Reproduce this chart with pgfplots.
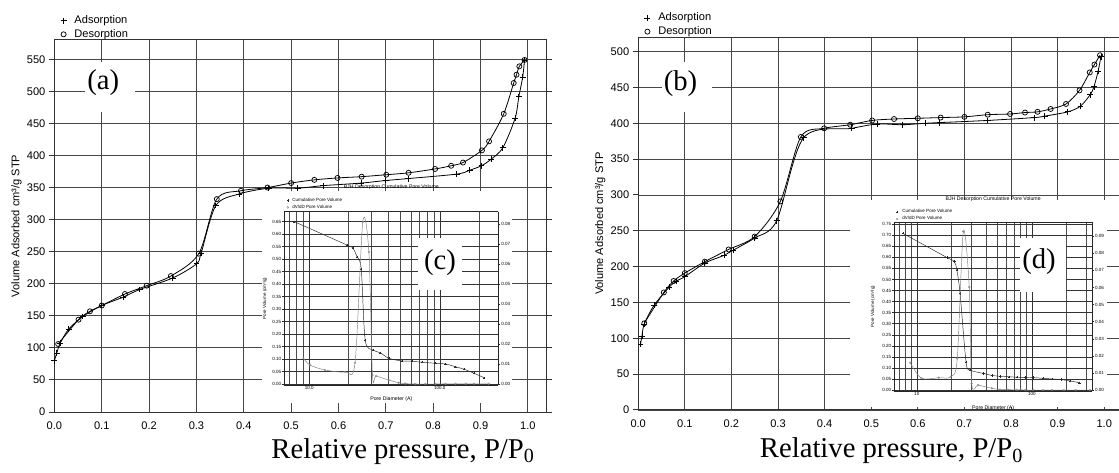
\documentclass[border=0pt]{standalone}
\usepackage{fontspec}
\setmainfont{Liberation Sans}
\newfontfamily\timesf{Liberation Serif}
\usepackage{pgfplots}
\pgfplotsset{compat=1.18}

\newcommand\mainfs{\fontsize{8.3}{9.5}\selectfont}
\newcommand\insfs{\fontsize{3.4}{4}\selectfont}
\newcommand\insfsb{\fontsize{3.9}{4.5}\selectfont}
\newcommand\bigfs{\timesf\fontsize{21.5}{24}\selectfont}

\pgfplotsset{
  markonly legend/.style={legend image code/.code={\draw[##1] plot[only marks] coordinates {(0pt,0pt)};}},
  mainax/.style={
    anchor=north west, scale only axis,
    xmin=0, ymin=0,
    xtick={0,0.1,0.2,0.3,0.4,0.5,0.6,0.7,0.8,0.9,1.0},
    grid=major,
    major grid style={black!72, line width=0.7pt},
    axis line style={black!80, line width=0.75pt},
    xtick style={draw=none},
    ytick style={black!80, line width=0.75pt},
    ytick align=outside, major tick length=3.75pt,
    tick label style={font=\mainfs},
    xticklabel style={/pgf/number format/fixed, /pgf/number format/fixed zerofill, /pgf/number format/precision=1, yshift=-4pt},
    yticklabel style={xshift=0.5pt},
    /pgf/number format/assume math mode=true,
    ylabel={Volume Adsorbed cm³/g STP},
    every axis y label/.style={at={([xshift=-28.5pt]axis description cs:0,0.5)}, rotate=90, anchor=center, font=\mainfs},
    markonly legend,
    legend cell align=left,
    legend style={draw=none, fill=none, at={(0,1)}, anchor=south west, xshift=4.5pt, yshift=-0.7pt, inner sep=0pt, row sep=0.75pt, font=\mainfs, nodes={inner sep=1pt}, /tikz/every odd column/.append style={column sep=4.95pt}},
  },
  insax/.style={
    anchor=north west, scale only axis,
    tick label style={font=\insfs},
    /pgf/number format/assume math mode=true,
    scaled y ticks=false,
    yticklabel style={/pgf/number format/fixed, /pgf/number format/fixed zerofill, /pgf/number format/precision=2, inner sep=0.6pt},
    xticklabel style={inner sep=1pt},
    axis line style={black!85, line width=0.35pt},
    xtick style={draw=none}, minor tick length=0pt,
    ytick style={black!85, line width=0.3pt},
    ytick align=outside, major tick length=1.5pt,
  },
}

\begin{document}
\begin{tikzpicture}
\path[use as bounding box] (0,0) rectangle (839.25pt,-354.75pt);
\clip (0,0) rectangle (839.25pt,-354.75pt);

% ---------------- (a) ----------------
\begin{axis}[mainax, at={(40.8pt,-30pt)}, width=369.3pt, height=279pt, xmax=1.04, ymax=580.1,
  ytick={0,50,100,150,200,250,300,350,400,450,500,550},
  xlabel={Relative pressure, P/P\textsubscript{0}},
  every axis x label/.style={at={([yshift=-34.5pt]axis description cs:0.708,0)}, anchor=base, font=\bigfs},
]
\addplot[black, line width=0.6pt, smooth, mark=+, mark size=2.2pt, mark options={line width=0.6pt}] coordinates {
(0.000,80) (0.005,92) (0.012,107) (0.030,129) (0.060,149) (0.100,166) (0.145,179)
(0.180,191) (0.250,209) (0.300,231) (0.310,248) (0.341,322) (0.390,340) (0.453,349)
(0.514,349) (0.568,353) (0.648,357) (0.700,361) (0.747,364) (0.850,371) (0.877,377)
(0.902,384) (0.922,394) (0.947,412) (0.973,458) (0.981,492) (0.989,522) (0.993,549)};
\addlegendentry{Adsorption}
\addplot[black, line width=0.6pt, smooth, mark=o, mark size=1.9pt, mark options={line width=0.55pt, fill=none}] coordinates {
(0.993,549) (0.982,539) (0.976,526) (0.970,513) (0.949,465) (0.918,422) (0.903,408)
(0.863,389) (0.838,384) (0.804,379) (0.748,373) (0.701,370) (0.649,367) (0.598,365)
(0.549,362) (0.500,357) (0.450,350) (0.394,345) (0.343,332) (0.305,247) (0.246,212)
(0.195,197) (0.149,184) (0.100,166) (0.075,157) (0.051,144) (0.008,106)};
\addlegendentry{Desorption}
\end{axis}

% ---------------- (b) ----------------
\begin{axis}[mainax, at={(478.65pt,-27.975pt)}, width=366.975pt, height=279.525pt, xmax=1.05, ymax=520,
  ytick={0,50,100,150,200,250,300,350,400,450,500},
  xlabel={Relative pressure, P/P\textsubscript{0}},
  every axis x label/.style={at={([yshift=-36pt]axis description cs:0.5177,0)}, anchor=base, font=\bigfs},
]
\addplot[black, line width=0.6pt, smooth, mark=+, mark size=2.2pt, mark options={line width=0.6pt}] coordinates {
(0.005,92) (0.008,103) (0.013,120) (0.034,146) (0.066,171) (0.082,180) (0.100,186)
(0.143,205) (0.185,216) (0.204,223) (0.250,240) (0.297,264) (0.355,380) (0.458,393)
(0.513,399) (0.567,398) (0.616,400) (0.647,401) (0.750,404) (0.850,408) (0.872,410)
(0.922,416) (0.949,424) (0.970,440) (0.978,451) (0.987,473) (0.993,493)};
\addlegendentry{Adsorption}
\addplot[black, line width=0.6pt, smooth, mark=o, mark size=1.9pt, mark options={line width=0.55pt, fill=none}] coordinates {
(0.991,495) (0.979,482) (0.969,471) (0.947,446) (0.918,427) (0.885,420) (0.857,416)
(0.830,415) (0.798,413) (0.750,412) (0.700,409) (0.649,408) (0.600,407) (0.549,406)
(0.502,404) (0.455,398) (0.399,393) (0.349,381) (0.305,291) (0.250,242) (0.194,224)
(0.143,207) (0.100,191) (0.076,180) (0.055,164) (0.013,121)};
\addlegendentry{Desorption}
\end{axis}

% white backgrounds of the insets
\fill[white] (196.5pt,-143.25pt) rectangle (384pt,-302.25pt);
\fill[white] (637.5pt,-150pt) rectangle (830.25pt,-305.25pt);

% ---------------- inset (c) ----------------
\begin{semilogxaxis}[insax, at={(213.225pt,-158.775pt)}, width=160.5pt, height=129.975pt,
  xmin=6.43, xmax=281, ymin=-0.004, ymax=0.689,
  axis y line*=left, axis x line*=box,
  xtick={10,100}, xticklabels={10.0,100.0},
  minor xtick={7,8,9,20,30,40,50,60,70,80,90,200},
  ytick={0,0.05,0.1,0.15,0.2,0.25,0.3,0.35,0.4,0.45,0.5,0.55,0.6,0.65},
  grid=both, major grid style={black!80, line width=0.3pt}, minor grid style={black!70, line width=0.3pt},
  title={BJH Desorption Cumulative Pore Volume},
  title style={at={(0.5,1)}, anchor=center, yshift=12.5pt, font=\insfsb},
  xlabel={Pore Diameter (A)},
  every axis x label/.style={at={([yshift=-10.7pt]axis description cs:0.5,0)}, anchor=center, font=\insfsb},
  ylabel={Pore Volume (cm³/g)},
  every axis y label/.style={at={([xshift=-14.5pt]axis description cs:0,0.5)}, rotate=90, anchor=center, font=\insfs},
  legend image code/.code={\draw[#1] plot[only marks] coordinates {(0pt,0pt)};},
  legend cell align=left,
  legend style={draw=none, fill=none, at={(0,1)}, anchor=south west, xshift=1.5pt, yshift=0.75pt, inner sep=0pt, row sep=0.7pt, font=\insfs, nodes={inner sep=0.3pt}, /tikz/every odd column/.append style={column sep=2.2pt}},
]
\addplot[black!85, line width=0.35pt, smooth, mark=+, mark size=0.9pt, mark options={line width=0.25pt}] coordinates {
(7.67,0.649) (19.4,0.556) (21.6,0.543) (23.2,0.509) (25.0,0.460) (26.8,0.176) (30.7,0.136)
(35.0,0.125) (40.6,0.103) (51.4,0.092) (61.4,0.091) (73.3,0.087) (92.7,0.083) (110.7,0.080)
(132,0.069) (154,0.059) (183,0.043) (219,0.025)};
\addlegendentry{Cumulative Pore Volume}
\addlegendimage{black!50, line width=0.35pt, mark=o, mark size=0.7pt, mark options={line width=0.25pt, fill=none}}
\addlegendentry{dV/dD Pore Volume}
\end{semilogxaxis}
\begin{semilogxaxis}[insax, at={(213.225pt,-158.775pt)}, width=160.5pt, height=129.975pt,
  xmin=6.43, xmax=281, ymin=-0.0005, ymax=0.0861,
  axis y line*=right, axis x line=none,
  ytick={0,0.01,0.02,0.03,0.04,0.05,0.06,0.07,0.08},
]
\addplot[black!50, line width=0.35pt, smooth, mark=o, mark size=0.7pt, mark options={line width=0.25pt, fill=none}] coordinates {
(9.0,0.0129) (10.1,0.0095) (13.2,0.0070) (18.8,0.0061) (22.4,0.0106) (25.7,0.0810)
(28.6,0.0660) (30.5,0.0045) (32.5,0.0040) (40.6,0.0020) (48.4,0.0006) (54.4,0.0002)
(65,0.0) (77.6,0.0) (92.7,0.0) (110.7,0.0001) (132,0.0001) (158,0.0001) (183,0.0001) (237,0.0001)};
\end{semilogxaxis}

% ---------------- inset (d) ----------------
\begin{semilogxaxis}[insax, at={(670.725pt,-166.5pt)}, width=148.275pt, height=126.75pt,
  xmin=6.38, xmax=334, ymin=-0.0045, ymax=0.760,
  axis y line*=left, axis x line*=box,
  xtick={10,100}, xticklabels={10,100},
  minor xtick={7,8,9,20,30,40,50,60,70,80,90,200,300},
  ytick={0,0.05,0.1,0.15,0.2,0.25,0.3,0.35,0.4,0.45,0.5,0.55,0.6,0.65,0.7,0.75},
  grid=both, major grid style={black!80, line width=0.3pt}, minor grid style={black!70, line width=0.3pt},
  title={BJH Desorption Cumulative Pore Volume},
  title style={at={(0.5,1)}, anchor=center, yshift=11pt, font=\insfsb},
  xlabel={Pore Diameter (A)},
  every axis x label/.style={at={([yshift=-12.5pt]axis description cs:0.5,0)}, anchor=center, font=\insfsb},
  ylabel={Pore Volume (cm³/g)},
  every axis y label/.style={at={([xshift=-16pt]axis description cs:0,0.5)}, rotate=90, anchor=center, font=\insfs},
  legend image code/.code={\draw[#1] plot[only marks] coordinates {(0pt,0pt)};},
  legend cell align=left,
  legend style={draw=none, fill=none, at={(0,1)}, anchor=south west, xshift=1pt, yshift=-0.3pt, inner sep=0pt, row sep=0.7pt, font=\insfs, nodes={inner sep=0.3pt}, /tikz/every odd column/.append style={column sep=2.7pt}},
]
\addplot[black!85, line width=0.35pt, smooth, mark=+, mark size=0.9pt, mark options={line width=0.25pt}] coordinates {
(7.55,0.709) (18.2,0.600) (21.2,0.581) (22.3,0.543) (23.8,0.437) (26.8,0.128) (29.0,0.091)
(37.9,0.075) (45,0.066) (53,0.062) (63,0.060) (74,0.058) (88,0.057) (103,0.056)
(125,0.053) (150,0.050) (180,0.047) (215,0.041) (259,0.033)};
\addlegendentry{Cumulative Pore Volume}
\addlegendimage{black!50, line width=0.35pt, mark=o, mark size=0.7pt, mark options={line width=0.25pt, fill=none}}
\addlegendentry{dV/dD Pore Volume}
\end{semilogxaxis}
\begin{semilogxaxis}[insax, at={(670.725pt,-166.5pt)}, width=148.275pt, height=126.75pt,
  xmin=6.38, xmax=334, ymin=-0.00058, ymax=0.0983,
  axis y line*=right, axis x line=none,
  ytick={0,0.01,0.02,0.03,0.04,0.05,0.06,0.07,0.08,0.09},
]
\addplot[black!50, line width=0.35pt, smooth, mark=o, mark size=0.7pt, mark options={line width=0.25pt, fill=none}] coordinates {
(8.75,0.0160) (11.0,0.0069) (15.5,0.0072) (19.8,0.0078) (22.5,0.0185) (25.4,0.0927)
(28.6,0.0602) (30.0,0.0039) (34.3,0.0029) (44.9,0.0010) (53,0.0003) (62,0.0002)
(74,0.0001) (88,0.0) (103,0.0) (125,0.0) (150,0.0) (190,0.0) (240,0.0) (320,0.0)};
\end{semilogxaxis}

% panel letters
\fill[white] (63.75pt,-46.5pt) rectangle (101.25pt,-84pt);
\node[font=\bigfs, anchor=center, inner sep=0pt] at (77.5pt,-61.9pt) {(a)};
\fill[white] (496.5pt,-46.5pt) rectangle (534pt,-84pt);
\node[font=\bigfs, anchor=center, inner sep=0pt] at (510.4pt,-62.5pt) {(b)};
\fill[white] (313.5pt,-178.5pt) rectangle (346.5pt,-217.5pt);
\node[font=\bigfs, anchor=center, inner sep=0pt] at (330pt,-196.9pt) {(c)};
\fill[white] (765pt,-178.5pt) rectangle (799.5pt,-219pt);
\node[font=\bigfs, anchor=center, inner sep=0pt] at (779.25pt,-196.3pt) {(d)};
\end{tikzpicture}
\end{document}
